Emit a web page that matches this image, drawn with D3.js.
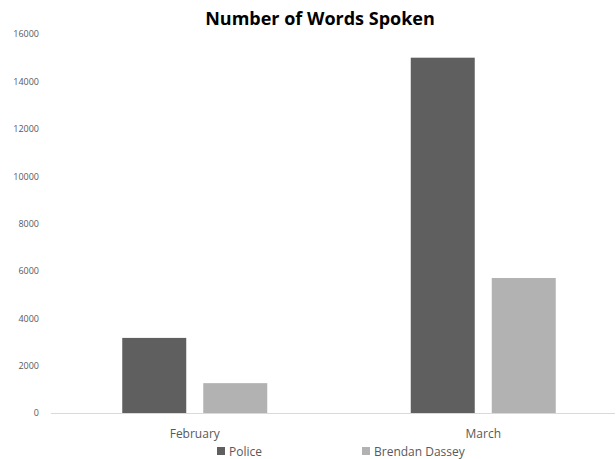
<!DOCTYPE html>
<html><head><meta charset="utf-8">
<script src="https://cdn.jsdelivr.net/npm/d3@7"></script>
<style>body{margin:0;background:#fff}svg{display:block}</style>
</head><body>
<svg id="c" width="616" height="459"></svg>
<script>
const categories = ["February", "March"];
const seriesNames = ["Police", "Brendan Dassey"];
const police = [3170, 15000];
const brendan = [1260, 5700];
const yTicks = [0, 2000, 4000, 6000, 8000, 10000, 12000, 14000, 16000];
const colors = ["#5f5f5f", "#b2b2b2"];

const svg = d3.select("#c");
const font = "'Open Sans', 'Liberation Sans', sans-serif";
const y = d3.scaleLinear().domain([0, 16000]).range([413, 34]);
const x0 = d3.scaleBand().domain(categories).range([50.5, 627.5]).padding(0);
const x1 = d3.scaleBand().domain(seriesNames).range([0, 145]).paddingInner(0.21).paddingOuter(0);
const bandOffset = (x0.bandwidth() - 145) / 2;

// title
svg.append("text").attr("x", 320).attr("y", 25).attr("text-anchor", "middle")
  .attr("font-family", font).attr("font-weight", "bold").attr("font-size", 18)
  .attr("fill", "#000").text("Number of Words Spoken");

// y axis labels
const yAxis = d3.axisLeft(y).tickValues(yTicks).tickSize(0).tickPadding(0).tickFormat(d3.format("d"));
const gy = svg.append("g").attr("transform", "translate(39,0)").call(yAxis);
gy.select(".domain").remove();
gy.selectAll("text").attr("font-family", font).attr("font-size", 9).attr("fill", "#595959");

// bars
const data = categories.map((c, i) => ({cat: c, vals: [police[i], brendan[i]]}));
const g = svg.append("g");
data.forEach(d => {
  d.vals.forEach((v, j) => {
    g.append("rect")
      .attr("x", x0(d.cat) + bandOffset + x1(seriesNames[j]))
      .attr("y", y(v))
      .attr("width", x1.bandwidth())
      .attr("height", y(0) - y(v))
      .attr("fill", colors[j]);
  });
});

// x axis line
svg.append("line").attr("x1", 51).attr("x2", 615).attr("y1", y(0) + 0.5).attr("y2", y(0) + 0.5)
  .attr("stroke", "#d9d9d9").attr("stroke-width", 1);

// x labels
const xAxis = d3.axisBottom(x0).tickSize(0).tickPadding(0);
const gx = svg.append("g").attr("transform", `translate(0,${y(0)})`).call(xAxis);
gx.select(".domain").remove();
gx.selectAll("text").attr("y", 16).attr("font-family", font).attr("font-size", 12).attr("fill", "#595959");

// legend
const legendX = [217, 362];
seriesNames.forEach((s, j) => {
  svg.append("rect").attr("x", legendX[j]).attr("y", 447).attr("width", 8).attr("height", 8).attr("fill", colors[j]);
  svg.append("text").attr("x", legendX[j] + 12).attr("y", 455.5)
    .attr("font-family", font).attr("font-size", 12).attr("fill", "#595959").text(s);
});
</script>
</body></html>
